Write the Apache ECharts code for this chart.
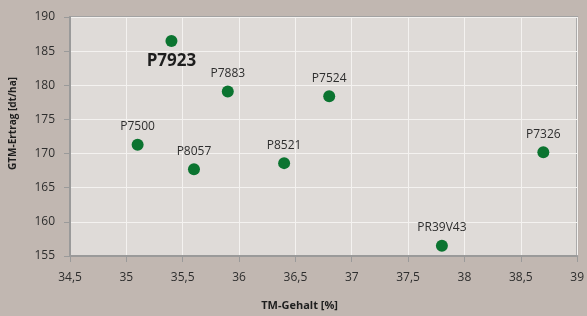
<!DOCTYPE html>
<html>
<head>
<meta charset="utf-8">
<script src="https://cdn.jsdelivr.net/npm/echarts@6/dist/echarts.min.js"></script>
<style>
  html, body { margin: 0; padding: 0; background: #c1b7b1; }
  #myChart { width: 587px; height: 316px; }
</style>
</head>
<body>
<div id="myChart"></div>
<script type="text/javascript">

  // varieties: name, TM-Gehalt [%], GTM-Ertrag [dt/ha]
  var names = ["P7923", "P7883", "P7524", "P7500", "P8057", "P8521", "P7326", "PR39V43"];
  var tmContent = [35.4, 35.9, 36.8, 35.1, 35.6, 36.4, 38.7, 37.8];
  var yieldGtm = [186.5, 179.1, 178.4, 171.3, 167.7, 168.6, 170.2, 156.5];
  var highlighted = "P7923";

  var chartDom = document.getElementById("myChart");
  var myChart = echarts.init(chartDom);

  var fontFamily = "'Open Sans', 'Noto Sans', sans-serif";
  var axisGray = "#9a9a9a";

  var points = names.map(function (n, i) {
    var item = { name: n, value: [tmContent[i], yieldGtm[i]] };
    if (n === highlighted) {
      item.label = {
        position: "bottom",
        distance: 6,
        fontSize: 17,
        fontWeight: "bold",
        color: "#1e1e1e"
      };
    }
    return item;
  });

  var option = {
    backgroundColor: "#c1b7b1",
    textStyle: { fontFamily: fontFamily },
    grid: {
      left: 68,
      right: 8,
      top: 17,
      bottom: 54,
      show: true,
      backgroundColor: "#dfdbd8",
      borderColor: "#a3a3a3",
      borderWidth: 2
    },
    xAxis: {
      type: "value",
      min: 34.5,
      max: 39,
      interval: 0.5,
      name: "TM-Gehalt [%]",
      nameLocation: "middle",
      nameGap: 44,
      nameTextStyle: {
        fontSize: 11,
        fontWeight: "bold",
        color: "#1e1e1e",
        padding: [0, 48, 0, 0]
      },
      axisLine: { show: true, lineStyle: { color: axisGray, width: 2 } },
      axisTick: { show: true, inside: false, length: 6, lineStyle: { color: axisGray } },
      axisLabel: {
        margin: 16,
        fontSize: 12,
        color: "#2e2e2e",
        formatter: function (v) { return String(v).replace(".", ","); }
      },
      splitLine: { show: true, lineStyle: { color: "#f4f2f0", width: 1 } }
    },
    yAxis: {
      type: "value",
      min: 155,
      max: 190,
      interval: 5,
      name: "GTM-Ertrag [dt/ha]",
      nameLocation: "middle",
      nameGap: 52,
      nameRotate: 90,
      nameTextStyle: {
        fontSize: 10,
        fontWeight: "bold",
        color: "#1e1e1e",
        padding: [0, 0, 0, 26]
      },
      axisLine: { show: true, lineStyle: { color: axisGray, width: 2 } },
      axisTick: { show: true, inside: false, length: 6, lineStyle: { color: axisGray } },
      axisLabel: { margin: 15, fontSize: 12, color: "#2e2e2e" },
      splitLine: { show: true, lineStyle: { color: "#f4f2f0", width: 1 } }
    },
    series: [
      {
        type: "scatter",
        data: points,
        symbolSize: 12,
        itemStyle: { color: "#0b7430", opacity: 1 },
        label: {
          show: true,
          position: "top",
          distance: 6,
          formatter: "{b}",
          fontSize: 12,
          color: "#2e2e2e"
        }
      }
    ]
  };

  option && myChart.setOption(option);
</script>
</body>
</html>
